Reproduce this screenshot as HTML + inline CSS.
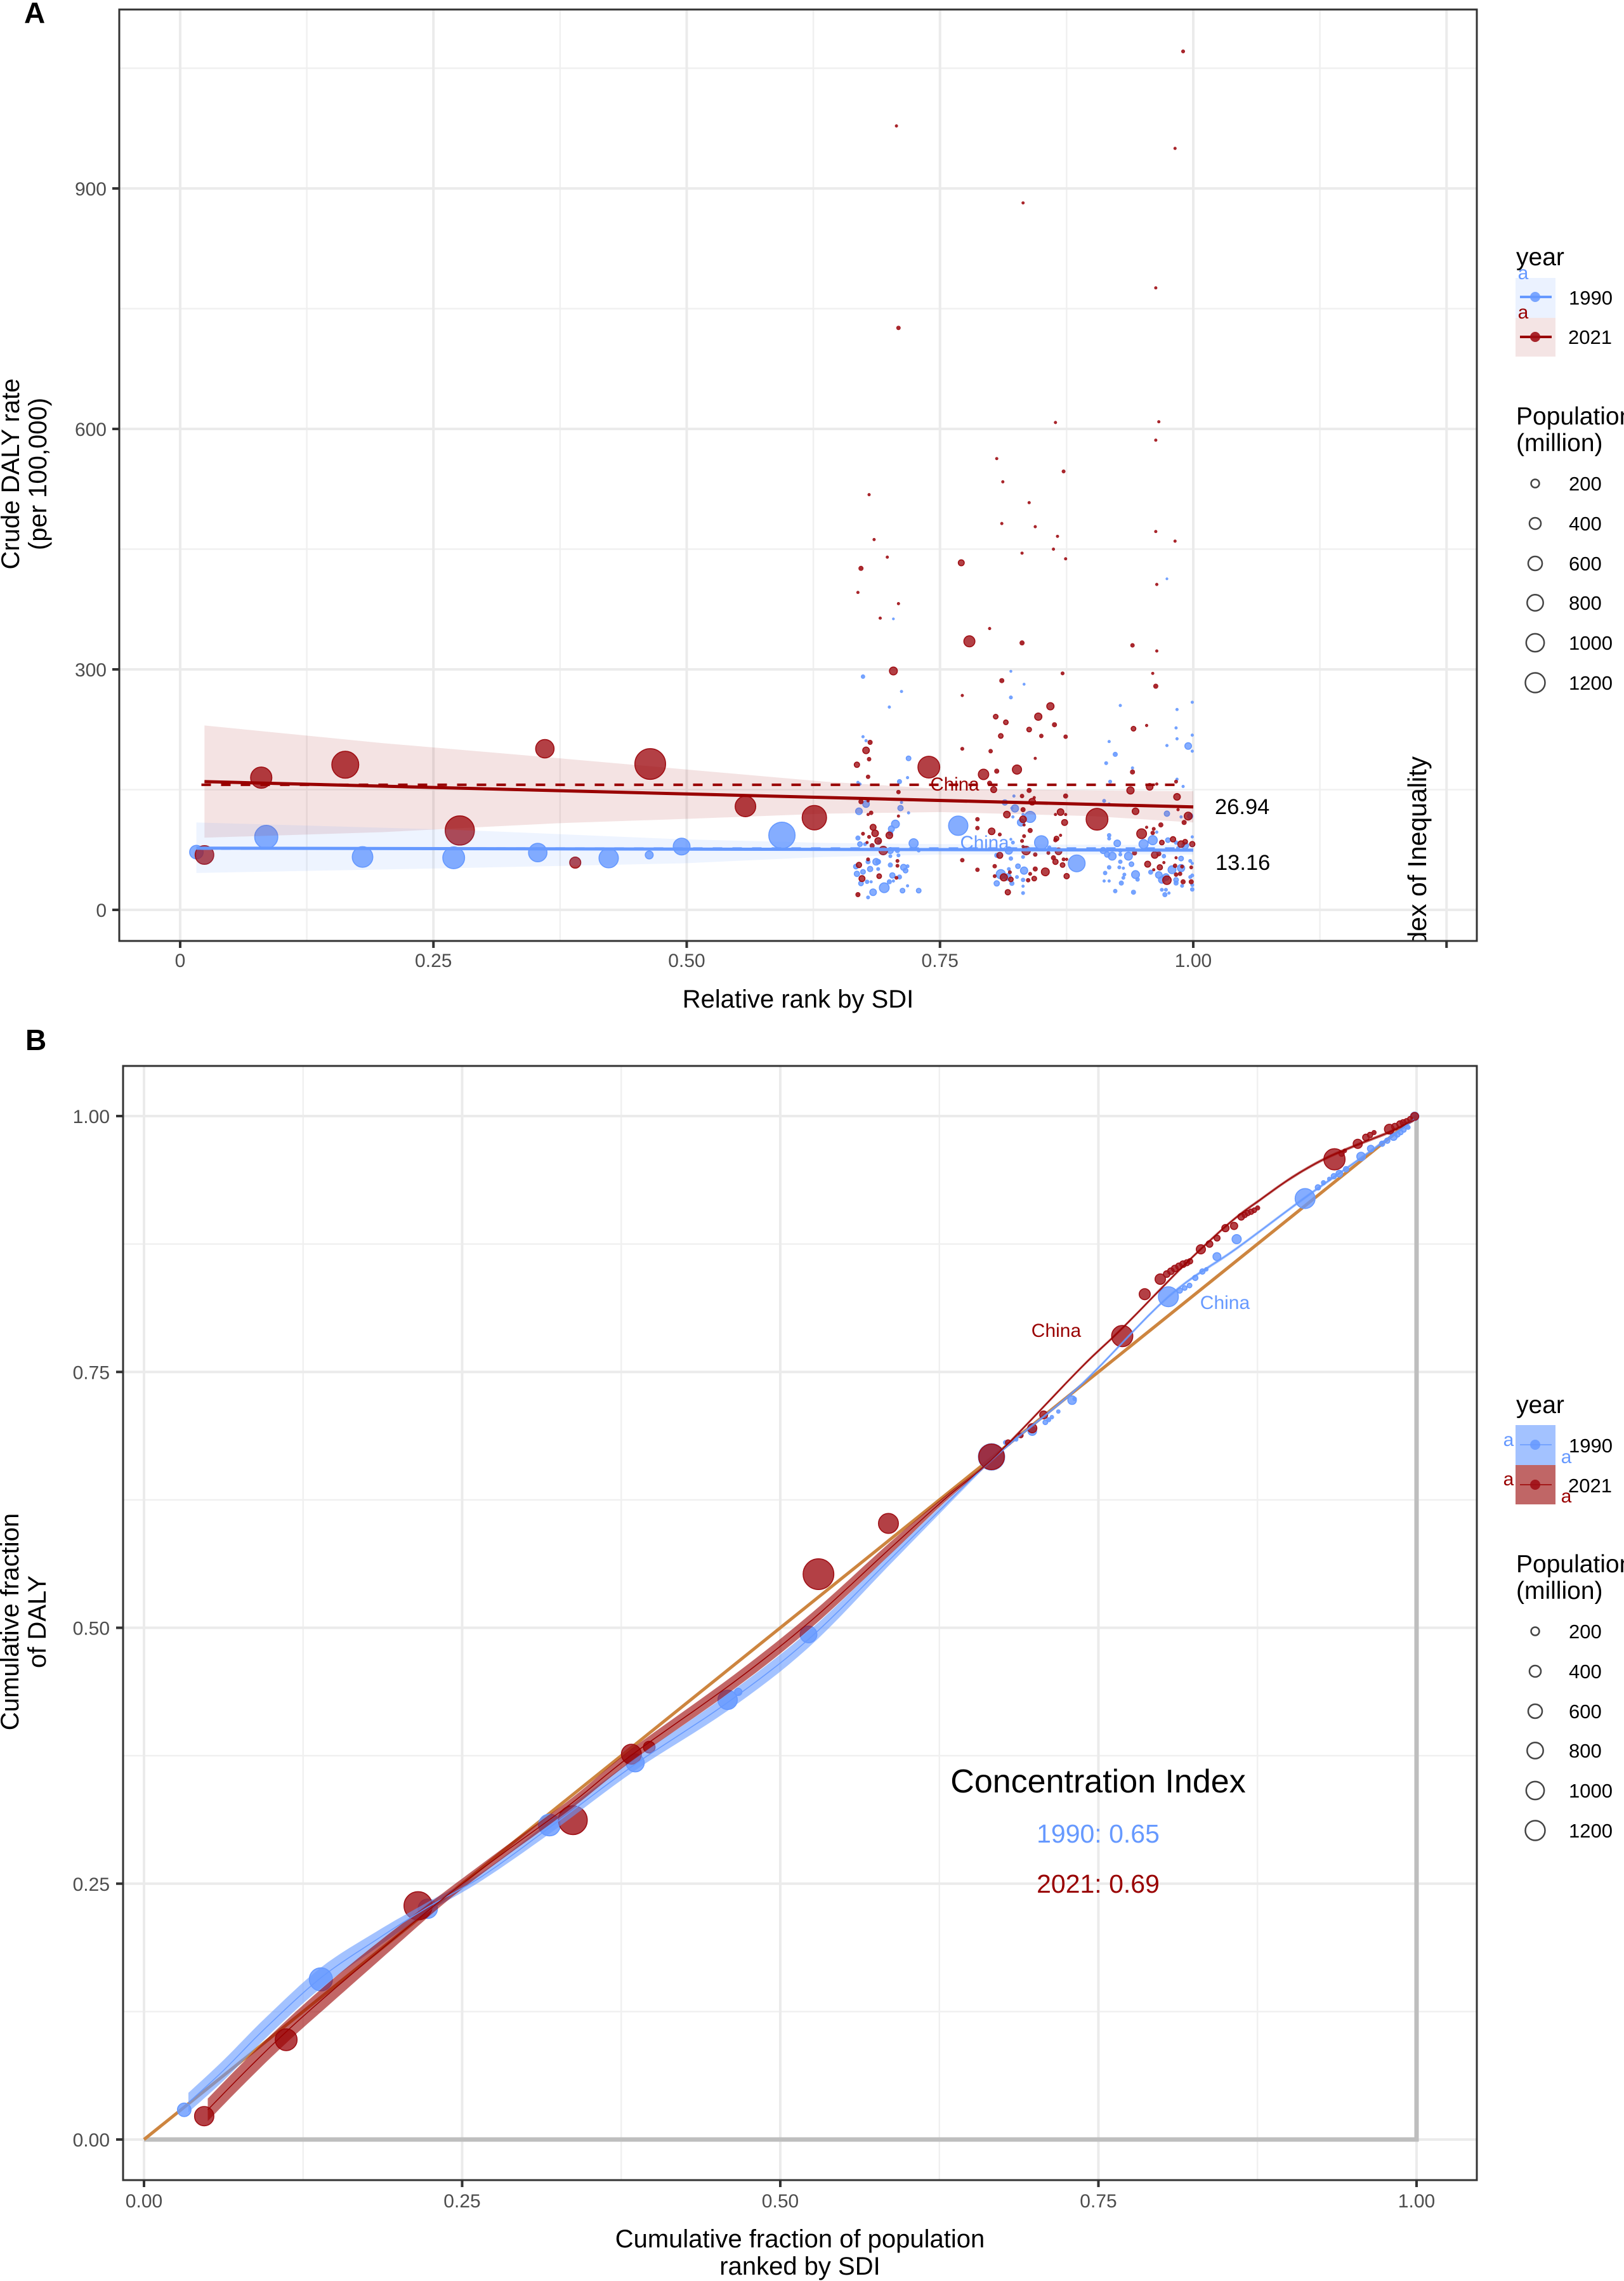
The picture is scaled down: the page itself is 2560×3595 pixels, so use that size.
<!DOCTYPE html>
<html lang="en">
<head>
<meta charset="utf-8">
<title>Crude DALY inequality chart</title>
<style>
html,body{margin:0;padding:0;background:#fff;width:2560px;height:3595px;overflow:hidden}
svg{display:block;font-family:"Liberation Sans",Arial,sans-serif}
</style>
</head>
<body>
<svg id="figure" xmlns="http://www.w3.org/2000/svg" width="2560" height="3595" viewBox="0 0 2560 3595">
<defs>
<clipPath id="clipA"><rect x="188" y="15" width="2140" height="1468"/></clipPath>
<clipPath id="clipB"><rect x="194" y="1680" width="2134" height="1756"/></clipPath>
</defs>
<rect x="0" y="0" width="2560" height="3595" fill="#fff"/>
<text x="38" y="36" font-size="46" font-weight="700">A</text>
<text x="40" y="1655" font-size="46" font-weight="700">B</text>
<g id="panelA"></g>
<g id="panelB"></g>

<text x="1258" y="1588" font-size="40" text-anchor="middle">Relative rank by SDI</text>
<text transform="translate(30,747) rotate(-90)" font-size="40" text-anchor="middle">Crude DALY rate</text>
<text transform="translate(73,747) rotate(-90)" font-size="40" text-anchor="middle">(per 100,000)</text>
<text x="1261" y="3542" font-size="40" text-anchor="middle">Cumulative fraction of population</text>
<text x="1261" y="3585" font-size="40" text-anchor="middle">ranked by SDI</text>
<text transform="translate(29,2556) rotate(-90)" font-size="40" text-anchor="middle">Cumulative fraction</text>
<text transform="translate(72,2556) rotate(-90)" font-size="40" text-anchor="middle">of DALY</text>

<g>
  <text x="2390" y="418" font-size="39">year</text>
  <rect x="2389" y="438" width="63" height="63" fill="#ebf2ff"/>
  <rect x="2389" y="501" width="63" height="61" fill="#f4e4e4"/>
  <line x1="2396" x2="2446" y1="468" y2="468" stroke="#6699ff" stroke-width="4"/>
  <circle cx="2420" cy="468" r="8" fill="#6699ff" fill-opacity=".85"/>
  <line x1="2396" x2="2446" y1="531" y2="531" stroke="#990000" stroke-width="4"/>
  <circle cx="2420" cy="531" r="8" fill="#a01016" fill-opacity=".9"/>
  <text x="2401" y="440" font-size="30" fill="#6699ff" text-anchor="middle">a</text>
  <text x="2401" y="502" font-size="30" fill="#990000" text-anchor="middle">a</text>
  <text x="2473" y="480" font-size="31">1990</text>
  <text x="2472" y="542" font-size="31">2021</text>
</g>
<g id="legendA">
  <text x="2390" y="669" font-size="39">Population</text>
  <text x="2390" y="711" font-size="39">(million)</text>
</g>

<g>
  <text x="2390" y="2227" font-size="39">year</text>
  <rect x="2389" y="2246" width="63" height="63" fill="#a3c2ff"/>
  <rect x="2389" y="2309" width="63" height="62" fill="#c06666"/>
  <line x1="2396" x2="2446" y1="2277" y2="2277" stroke="#6699ff" stroke-width="1.5"/>
  <circle cx="2420" cy="2277" r="8" fill="#6699ff" fill-opacity=".85"/>
  <line x1="2396" x2="2446" y1="2340" y2="2340" stroke="#990000" stroke-width="1.5"/>
  <circle cx="2420" cy="2340" r="8" fill="#a01016" fill-opacity=".9"/>
  <text x="2378" y="2279" font-size="30" fill="#6699ff" text-anchor="middle">a</text>
  <text x="2378" y="2341" font-size="30" fill="#990000" text-anchor="middle">a</text>
  <text x="2473" y="2289" font-size="31">1990</text>
  <text x="2472" y="2352" font-size="31">2021</text>
  <text x="2469" y="2306" font-size="30" fill="#6699ff" text-anchor="middle">a</text>
  <text x="2469" y="2368" font-size="30" fill="#990000" text-anchor="middle">a</text>
</g>
<g id="legendB">
  <text x="2390" y="2478" font-size="39">Population</text>
  <text x="2390" y="2520" font-size="39">(million)</text>
</g>
</svg>
<script>
// ---------- shared legend data ----------
const legendPopulations = [200, 400, 600, 800, 1000, 1200];

// ---------- Panel A axes ----------
const aXTicks = [0, 0.25, 0.5, 0.75, 1, 1.25];
const aXTickLabels = ["0", "0.25", "0.50", "0.75", "1.00", ""];
const aXMinor = [0.125, 0.375, 0.625, 0.875, 1.125];
const aYTicks = [0, 300, 600, 900];
const aYMinor = [150, 450, 750, 1050];

// ---------- Panel A series: 1990 ----------
const a1990Rank = [
.016,.085,.180,.270,.353,.423,.463,.495,.594,
.974,.704,
.674,.712,.700,.820,.833,.820,.928,.999,.984,.983,
.999,.984,.974,.995,.999,.674,.677,.917,.923,.914,
.719,.718,.940,.710,.669,.671,.918,.984,.990,.823,
.912,.917,.814,.677,.712,.824,.821,.711,.670,.719,
.974,.997,.839,.822,.830,.832,.706,.702,.701,.768,
.988,.917,.917,.669,.964,.960,.975,.999,.671,.676,
.690,.724,.925,.951,.850,.822,.820,.983,.992,.985,
.858,.818,.729,.701,.708,.911,.915,.920,.928,.928,
.936,.939,.928,.971,.988,.997,.999,.701,.709,.832,
.806,.820,.689,.679,.687,.885,.827,.701,.714,.718,
.716,.667,.674,.681,.689,.668,.917,.927,.931,.979,
.988,.833,.818,.810,.817,.826,.913,.943,.958,.966,
.973,.999,.932,.931,.703,.710,.945,.969,.983,.997,
.832,.704,.700,.678,.682,.672,.695,.718,.806,.821,
.832,.929,.983,.989,.912,.917,.684,.713,.729,.679,
.832,.923,.941,.969,.973,.972,.976,.999,.999];
const a1990Daly = [
72,91,66,65,71.5,64.5,68.5,79,93,
413,363,
291,272.5,253,297.6,281.5,265,255,259,250,227,
218,213.4,205,204.4,198,216,211,210,194,183,
189,165,177,160,159,157,160,163,154,142,
136,132,134,132,134,126.6,127,127,123,121,
120,117,116,116,109,119,107,101,96,105,
116,93,89,89.6,97,87,87,91,82,82,
85,83,83,82,84,84,88,84,80,77,
78,74,74,74,74,74,69,67,74,69,
67,57,60,67,64,61,58,67,68,66,
68,64,60,60,60,58,54.5,56,53,54.5,
49,54,47.4,51,51,45,53,53,52,50,
52,49,51,44.5,41,41,46,44,47,43.5,
41,43,44,40,43,41,38,37.4,37.4,41,
37.4,36,35,35,35,33,27.6,30,33,33,
29.5,33.4,33.4,30,36,36,22,24,24,15.5,
21,23.4,22,25,25,19,21,25.5,31];
const a1990Pop = [
510,1580,1240,1400,984,1090,156,807,2070,
2,2,
20,5,5,3,3,12,5,5,5,5,
5,5,5,105,5,5,5,5,32,12,
46,5,5,32,5,5,12,5,5,5,
12,5,63,105,5,129,5,63,105,5,
63,63,330,5,129,5,156,82,46,1086,
5,20,12,32,5,218,46,5,46,12,
12,218,105,218,520,12,3,20,105,12,
12,129,12,82,32,82,63,156,20,12,
156,46,20,20,46,12,5,12,12,12,
32,20,46,32,105,807,46,32,82,12,
46,46,46,63,12,63,20,12,5,156,
129,129,12,218,105,12,20,156,32,105,
105,12,12,12,63,32,20,105,46,12,
20,5,32,20,5,46,253,5,63,32,
5,32,32,12,5,5,105,46,46,12,
12,20,32,12,12,32,5,20,12];

// ---------- Panel A series: 2021 ----------
const a2021Rank = [
.080,.163,.360,.464,.558,.626,.276,.024,.390,
.990,.707,.982,.832,.963,.709,.864,.966,.963,.806,.872,.680,.812,.838,.811,.844,.866,.963,.982,.862,.831,.874,.685,.698,.672,.771,.669,.709,.691,.964,.799,
.779,.831,.940,.964,.704,.871,.960,.811,.963,.772,
.859,.805,.847,.815,.863,.838,.941,.954,.810,.850,
.874,.681,.677,.680,.772,.800,.844,.668,.739,.793,
.806,.826,.940,.679,.983,.799,.964,.957,.803,.938,
.838,.709,.874,.984,.831,.841,.843,.672,.679,.943,
.832,.985,.869,.682,.679,.816,.864,.874,.709,.995,
.787,.873,.991,.905,.832,.833,.968,.684,.787,.839,
.954,.961,.949,.960,.801,.686,.700,.674,.809,.833,
.869,.680,.865,.864,.689,.980,.831,.969,.992,.988,
.999,.678,.683,.694,.832,.835,.867,.857,.942,.844,
.862,.962,.966,.809,.679,.983,.872,.875,.772,.864,
.708,.670,.708,.871,.955,.967,.971,.982,.989,.804,
.844,.961,.787,.998,.854,.839,.690,.875,.804,.983,
.987,.813,.819,.820,.843,.837,.673,.707,.974,.990,
.998,.817,.669];
const a2021Daly = [
165,181,201,182,129,115,99,68.5,59,
1071,978,950,882,776,726,608,609,586,563,547,518,534,508,482,478,466,472,460,450,445,438,462,440,426,433,396,382,364,406,351,
335,333,330,323,298,295,295,286,279,267.5,
254,241,241,234,231,225,226,230,217,217,
216,209,199,188,201,198,189,181,178,169,
173,175,172,166,160,158,157,153.5,150,149,
149,147,142,141,142,135,140,135,136,123,
125,125,122,121,119,119,119,119,117,117,
113,109,109,113,113,106,106,103,102,99,
103,101,95,96,98,95.5,93,95,94,92,
93,91,89,87,86,88,86,84,85,82,
82,84,80,74,79,74,73,71,71,69,
65,68.5,70,68,63,65,63,63,62,60,
61,56,55,56,57,53,59,55,54,54.5,
51,50,50,53,47.4,45,42,42,42,44,
45,40.5,47,38,39,37,39,40,37,35,
35,22,19];
const a2021Pop = [
1322,2170,984,2850,1240,1770,2560,1010,330,
12,5,5,5,5,20,5,5,5,5,12,5,5,5,5,5,5,5,5,5,5,5,5,5,32,82,5,5,5,5,5,
330,32,20,5,156,12,5,32,32,5,
129,46,129,46,32,46,46,5,46,20,
20,32,105,20,12,20,5,63,1400,290,
32,218,32,20,12,32,5,105,82,129,
32,20,32,105,20,105,5,32,5,105,
32,5,105,20,5,105,5,5,5,156,
20,82,32,1400,105,5,32,82,20,32,
5,12,253,20,105,105,105,12,12,12,
5,12,46,20,105,63,12,46,46,105,
63,5,32,186,5,186,105,12,32,20,
32,105,32,82,12,5,12,5,20,63,
12,63,12,46,82,63,5,20,12,20,
32,5,20,12,156,12,46,63,12,20,
20,129,12,46,46,20,82,12,186,32,
32,63,32];

// ---------- Panel A fits ----------
const aBandRank = [0.024, 0.2, 0.371, 0.51, 0.636, 0.75, 0.9, 1.0];
const aBand2021High = [230, 208, 189.5, 174, 160, 151, 149, 148];
const aBand2021Low = [90, 97, 108, 114, 120, 122, 117, 109];
const aBand1990Rank = [0.016, 0.27, 0.495, 0.636, 0.75, 1.0];
const aBand1990High = [109, 100, 88, 83.5, 82, 81];
const aBand1990Low = [46, 52, 58, 66, 69, 69];
const aFit2021Rank = [0.024, 1.0];
const aFit2021Daly = [160, 128.4];
const aFit1990Rank = [0.016, 1.0];
const aFit1990Daly = [77, 74.5];
const aMean2021Rank = [0.021, 0.99];
const aMean2021Daly = [156, 156];
const aMean1990Rank = [0.021, 0.99];
const aMean1990Daly = [76.5, 76.5];

// ---------- Panel B axes ----------
const bTicks = [0, 0.25, 0.5, 0.75, 1];
const bTickLabels = ["0.00", "0.25", "0.50", "0.75", "1.00"];
const bMinor = [0.125, 0.375, 0.625, 0.875];

// ---------- Panel B curves ----------
const b1990CurveX = [.0349,.0628,.0959,.139,.1824,.223,.266,.320,.386,.4586,.522,.586,.65,.667,.6854,.7364,.805,.8584,.912,.9564,.998];
const b1990CurveY = [.0361,.0679,.1094,.158,.195,.227,.2575,.306,.3667,.427,.4885,.5666,.645,.665,.685,.7375,.8235,.8705,.92,.9591,.9966];
const b1990CurveBand = [.0095,.010,.010,.010,.008,.005,.004,.006,.006,.008,.008,.005,.002,.0015,.0015,.0015,.0015,.0015,.0015,.0015,.0015];
const b2021CurveX = [.0501,.0807,.1117,.1466,.1901,.228,.2536,.2867,.3365,.3825,.4636,.525,.5857,.629,.66,.6854,.7364,.769,.8126,.838,.8584,.8763,.9017,.9271,.9525,.978,.998];
const b2021CurveY = [.029,.0679,.1052,.1439,.1897,.2284,.2533,.2838,.329,.375,.447,.5078,.5769,.6255,.6574,.688,.7542,.793,.8484,.8788,.9011,.9175,.9397,.9578,.9715,.984,.996];
const b2021CurveBand = [.011,.011,.011,.011,.009,.006,.005,.005,.005,.006,.007,.007,.006,.003,.0015,.0015,.0015,.0015,.0015,.0015,.0015,.0015,.0015,.0015,.0015,.0015,.0015];
const bEqualityX = [0, 1];
const bEqualityY = [0, 1];
const bFrameX = [0, 1, 1];
const bFrameY = [0, 0, 1];

// ---------- Panel B points ----------
const b1990PopFrac = [.0316,.139,.223,.3186,.386,.4586,.467,.5222,.666,.677,.6854,.689,.698,.7083,.7109,.7134,.7185,.7293,.7313,.805,.8139,.8178,.8216,.8261,.8317,.8348,.8431,.8586,.9124,.9225,.9268,.9314,.9350,.9393,.9446,.9564,.964,.9729,.9770,.9819,.9850,.9876,.9900,.9933,.9985];
const b1990DalyFrac = [.029,.1565,.2255,.3073,.368,.4296,.4374,.4935,.667,.681,.684,.688,.6921,.7008,.7033,.7058,.7113,.7224,.7237,.8235,.8295,.8320,.8345,.8419,.8481,.8503,.8627,.8797,.9194,.9303,.9349,.9386,.9412,.9438,.9481,.9605,.9682,.973,.9760,.9798,.9820,.984,.9865,.989,.9997];
const b1990Pop = [510,1580,1090,1400,941,1090,129,807,2070,32,20,32,186,46,32,20,20,186,20,1160,63,46,46,63,63,20,156,218,1160,63,32,20,63,105,63,186,105,63,63,129,63,46,46,32,186];
const b2021PopFrac = [.0473,.1117,.2154,.337,.383,.397,.530,.585,.666,.707,.698,.679,.689,.7687,.7864,.7986,.8037,.8070,.8100,.8133,.8165,.8195,.8220,.8305,.8373,.8432,.8498,.8566,.8622,.8650,.8673,.8700,.8725,.8751,.9355,.9411,.9436,.9538,.9602,.9634,.9666,.9786,.9830,.987,.9895,.9921,.9950,.9985];
const b2021DalyFrac = [.0228,.0975,.2284,.312,.3765,.3834,.5524,.602,.667,.708,.695,.681,.688,.785,.826,.8407,.8456,.8484,.8511,.8532,.8553,.8567,.8581,.8698,.875,.8808,.8905,.8927,.9016,.9034,.9052,.9066,.908,.9102,.9578,.9633,.966,.9729,.9792,.9815,.9839,.9872,.9897,.9922,.9936,.995,.997,.9997];
const b2021Pop = [1086,1406,2390,2500,1160,373,2850,1160,1960,156,218,63,46,1320,330,290,105,105,105,105,105,82,63,218,105,82,129,129,105,63,63,63,46,32,1320,63,20,218,105,63,32,253,105,105,82,63,63,156];

// ---------- scales ----------
const ax = v => 284 + 1597 * v;
const ay = v => 1434 - 1.2633 * v;
const bx = v => 227 + 2006 * v;
const by = v => 3372 - 1613 * v;
const diameter = p => 3 + 0.88 * Math.sqrt(p);

const NS = "http://www.w3.org/2000/svg";
const RED = "#990000", BLUE = "#6699ff", GRID = "#ebebeb", MINOR = "#f0f0f0", DARK = "#333333", TICK = "#4d4d4d";

function make(tag, attrs, parent, text) {
  const node = document.createElementNS(NS, tag);
  for (const k in attrs) node.setAttribute(k, attrs[k]);
  if (text !== undefined) node.textContent = text;
  parent.appendChild(node);
  return node;
}
function pointsOf(xs, ys, fx, fy) {
  return xs.map((v, i) => fx(v).toFixed(1) + "," + fy(ys[i]).toFixed(1)).join(" ");
}
// Catmull-Rom resampling, so curves pass through the read values without kinks.
function smooth(values) {
  const out = [];
  const n = values.length;
  for (let i = 0; i < n - 1; i++) {
    const p0 = values[Math.max(i - 1, 0)], p1 = values[i], p2 = values[i + 1], p3 = values[Math.min(i + 2, n - 1)];
    for (let s = 0; s < 8; s++) {
      const t = s / 8;
      out.push(0.5 * (2 * p1 + (p2 - p0) * t + (2 * p0 - 5 * p1 + 4 * p2 - p3) * t * t + (3 * p1 - p0 - 3 * p2 + p3) * t * t * t));
    }
  }
  out.push(values[n - 1]);
  return out;
}
function drawDots(parent, xs, ys, ps, fx, fy, fill, stroke, name) {
  xs.forEach((v, i) => {
    const d = diameter(ps[i]);
    const sw = d > 8 ? 1.6 : 0.6;
    const dot = make("circle", {cx: fx(v).toFixed(1), cy: fy(ys[i]).toFixed(1), r: ((d - sw) / 2).toFixed(2), fill: fill, "fill-opacity": d > 8 ? 0.8 : 0.9, stroke: stroke, "stroke-width": sw}, parent);
    
    
  });
}
function drawBand(parent, xs, lo, hi, fx, fy, fill, alpha, name) {
  const rx = xs.slice().reverse(), rh = hi.slice().reverse();
  const poly = make("polygon", {points: pointsOf(xs, lo, fx, fy) + " " + pointsOf(rx, rh, fx, fy), fill: fill, "fill-opacity": alpha}, parent);
  
  
}
function drawLine(parent, xs, ys, fx, fy, color, width, dash, name) {
  const attrs = {points: pointsOf(xs, ys, fx, fy), fill: "none", stroke: color, "stroke-width": width};
  if (dash) attrs["stroke-dasharray"] = dash;
  const line = make("polyline", attrs, parent);
  
  
}
function drawPopulationLegend(group, ys, labelOffset) {
  legendPopulations.forEach((p, i) => {
    const d = diameter(p);
    const c = make("circle", {cx: 2420, cy: ys[i], r: (d - 2.5) / 2, fill: "none", stroke: "#444", "stroke-width": 2.5}, group);
    
    
    const t = make("text", {x: 2473, y: ys[i] + labelOffset, "font-size": 31}, group, String(p));
    
    
  });
}

// ---------- Panel A ----------
(function () {
  const root = document.getElementById("panelA");
  const L = 188, R = 2328, T = 15, B = 1483;
  const clip = make("g", {"clip-path": "url(#clipA)"}, root);
  
  

  aXMinor.forEach(v => {
    const g = make("line", {x1: ax(v), x2: ax(v), y1: T, y2: B, stroke: MINOR, "stroke-width": 2.5}, clip);
    
    
  });
  aYMinor.forEach(v => {
    const g = make("line", {x1: L, x2: R, y1: ay(v), y2: ay(v), stroke: MINOR, "stroke-width": 2.5}, clip);
    
    
  });
  aXTicks.forEach(v => {
    const g = make("line", {x1: ax(v), x2: ax(v), y1: T, y2: B, stroke: GRID, "stroke-width": 4}, clip);
    
    
  });
  aYTicks.forEach(v => {
    const g = make("line", {x1: L, x2: R, y1: ay(v), y2: ay(v), stroke: GRID, "stroke-width": 4}, clip);
    
    
  });

  drawDots(clip, a1990Rank, a1990Daly, a1990Pop, ax, ay, BLUE, BLUE, 'point-1990');
  drawDots(clip, a2021Rank, a2021Daly, a2021Pop, ax, ay, "#a01016", "#a01016", 'point-2021');

  drawBand(clip, aBandRank, aBand2021Low, aBand2021High, ax, ay, RED, 0.11, 'confidence-band-2021');
  drawBand(clip, aBand1990Rank, aBand1990Low, aBand1990High, ax, ay, BLUE, 0.11, 'confidence-band-1990');
  drawLine(clip, aMean2021Rank, aMean2021Daly, ax, ay, RED, 4, "15 16", 'reference-line-2021');
  drawLine(clip, aMean1990Rank, aMean1990Daly, ax, ay, BLUE, 4, "15 16", 'reference-line-1990');
  drawLine(clip, aFit2021Rank, aFit2021Daly, ax, ay, RED, 5, null, 'fit-line-2021');
  drawLine(clip, aFit1990Rank, aFit1990Daly, ax, ay, BLUE, 5, null, 'fit-line-1990');

  const china21 = make("text", {x: 1505, y: 1246, "font-size": 29.5, fill: RED, "text-anchor": "middle"}, clip, "China");
  
  
  const china90 = make("text", {x: 1552, y: 1338, "font-size": 29.5, fill: BLUE, "text-anchor": "middle"}, clip, "China");
  
  
  const v1 = make("text", {x: 1915, y: 1283, "font-size": 34.5, fill: "#000"}, clip, "26.94");
  
  
  const v2 = make("text", {x: 1916, y: 1371, "font-size": 34.5, fill: "#000"}, clip, "13.16");
  
  
  const sii = make("text", {transform: "translate(2248,1192) rotate(-90)", "font-size": 41, "text-anchor": "end", fill: "#000"}, clip, "Slope Index of Inequality");
  
  

  const border = make("rect", {x: L, y: T, width: R - L, height: B - T, fill: "none", stroke: DARK, "stroke-width": 3}, root);
  
  

  aXTicks.forEach((v, i) => {
    const t = make("line", {x1: ax(v), x2: ax(v), y1: B, y2: B + 11, stroke: DARK, "stroke-width": 4}, root);
    
    
    const lab = make("text", {x: ax(v), y: 1524, "font-size": 30, fill: TICK, "text-anchor": "middle"}, root, aXTickLabels[i]);
    
    
  });
  aYTicks.forEach(v => {
    const t = make("line", {x1: L - 11, x2: L, y1: ay(v), y2: ay(v), stroke: DARK, "stroke-width": 4}, root);
    
    
    const lab = make("text", {x: 168, y: ay(v) + 11, "font-size": 30, fill: TICK, "text-anchor": "end"}, root, String(v));
    
    
  });
  drawPopulationLegend(document.getElementById("legendA"), [762, 825, 888, 950, 1013, 1076], 11);
})();

// ---------- Panel B ----------
(function () {
  const root = document.getElementById("panelB");
  const L = 194, R = 2328, T = 1680, B = 3436;
  const clip = make("g", {"clip-path": "url(#clipB)"}, root);
  
  

  bMinor.forEach(v => {
    const gx = make("line", {x1: bx(v), x2: bx(v), y1: T, y2: B, stroke: MINOR, "stroke-width": 2.5}, clip);
    
    
    const gy = make("line", {x1: L, x2: R, y1: by(v), y2: by(v), stroke: MINOR, "stroke-width": 2.5}, clip);
    
    
  });
  bTicks.forEach(v => {
    const gx = make("line", {x1: bx(v), x2: bx(v), y1: T, y2: B, stroke: GRID, "stroke-width": 4}, clip);
    
    
    const gy = make("line", {x1: L, x2: R, y1: by(v), y2: by(v), stroke: GRID, "stroke-width": 4}, clip);
    
    
  });

  drawLine(clip, bFrameX, bFrameY, bx, by, "#bebebe", 7, null, 'lorenz-frame-line');
  drawLine(clip, bEqualityX, bEqualityY, bx, by, "#cd853f", 5, null, 'equality-line');

  drawDots(clip, b1990PopFrac, b1990DalyFrac, b1990Pop, bx, by, BLUE, BLUE, 'point-1990');
  drawDots(clip, b2021PopFrac, b2021DalyFrac, b2021Pop, bx, by, "#a01016", "#a01016", 'point-2021');

  const x90 = smooth(b1990CurveX), y90 = smooth(b1990CurveY), w90 = smooth(b1990CurveBand);
  const x21 = smooth(b2021CurveX), y21 = smooth(b2021CurveY), w21 = smooth(b2021CurveBand);
  const lo90 = y90.map((v, i) => v - w90[i]);
  const hi90 = y90.map((v, i) => v + w90[i]);
  const lo21 = y21.map((v, i) => v - w21[i]);
  const hi21 = y21.map((v, i) => v + w21[i]);
  drawBand(clip, x90, lo90, hi90, bx, by, BLUE, 0.6, 'concentration-band-1990');
  drawBand(clip, x21, lo21, hi21, bx, by, RED, 0.6, 'concentration-band-2021');
  drawLine(clip, x90, y90, bx, by, BLUE, 1.5, null, 'concentration-curve-1990');
  drawLine(clip, x21, y21, bx, by, RED, 1.5, null, 'concentration-curve-2021');

  const china21 = make("text", {x: 1665, y: 2107, "font-size": 30, fill: RED, "text-anchor": "middle"}, clip, "China");
  
  
  const china90 = make("text", {x: 1931, y: 2063, "font-size": 30, fill: BLUE, "text-anchor": "middle"}, clip, "China");
  
  
  const title = make("text", {x: 1731, y: 2825, "font-size": 52, fill: "#000", "text-anchor": "middle"}, clip, "Concentration Index");
  
  
  const c90 = make("text", {x: 1731, y: 2904, "font-size": 41, fill: BLUE, "text-anchor": "middle"}, clip, "1990: 0.65");
  
  
  const c21 = make("text", {x: 1731, y: 2983, "font-size": 41, fill: RED, "text-anchor": "middle"}, clip, "2021: 0.69");
  
  

  const border = make("rect", {x: L, y: T, width: R - L, height: B - T, fill: "none", stroke: DARK, "stroke-width": 3}, root);
  
  

  bTicks.forEach((v, i) => {
    const tx = make("line", {x1: bx(v), x2: bx(v), y1: B, y2: B + 11, stroke: DARK, "stroke-width": 4}, root);
    
    
    const lx = make("text", {x: bx(v), y: 3479, "font-size": 30, fill: TICK, "text-anchor": "middle"}, root, bTickLabels[i]);
    
    
    const ty = make("line", {x1: L - 11, x2: L, y1: by(v), y2: by(v), stroke: DARK, "stroke-width": 4}, root);
    
    
    const ly = make("text", {x: 173, y: by(v) + 11, "font-size": 30, fill: TICK, "text-anchor": "end"}, root, bTickLabels[i]);
    
    
  });
  drawPopulationLegend(document.getElementById("legendB"), [2571, 2634, 2697, 2759, 2822, 2885], 11);
})();
</script>
</body>
</html>
